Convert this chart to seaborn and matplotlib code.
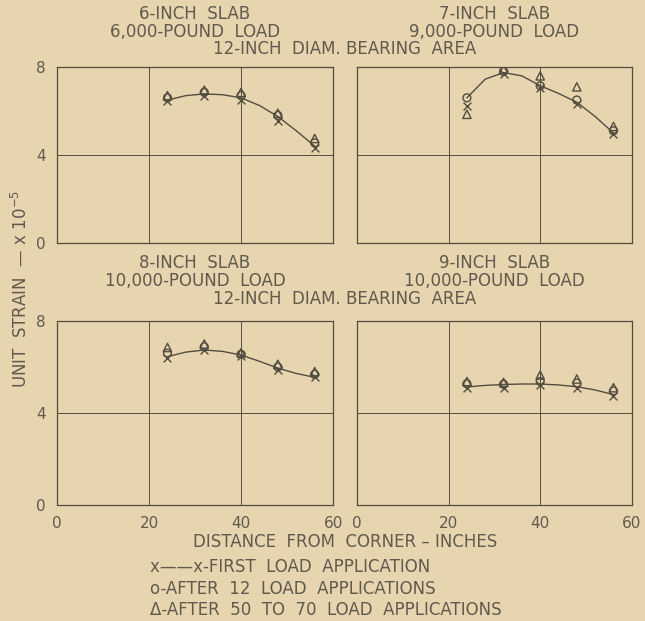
import matplotlib
matplotlib.use("Agg")
import matplotlib.pyplot as plt
import numpy as np
import pandas as pd
import seaborn as sns

# distances from corner (inches) where gages were read
distances = [24, 32, 40, 48, 56]
# points
curve_x = [24, 28, 32, 36, 40, 44, 48, 52, 56]

six_curve = [6.5, 6.7, 6.78, 6.74, 6.6, 6.25, 5.75, 5.1, 4.4]
six_first = [6.45, 6.7, 6.5, 5.55, 4.3]
six_12 = [6.6, 6.85, 6.7, 5.8, 4.55]
six_50 = [6.7, 6.95, 6.85, 5.9, 4.75]

seven_curve = [6.6, 7.45, 7.75, 7.6, 7.15, 6.8, 6.4, 5.75, 5.0]
seven_first = [6.25, 7.7, 7.05, 6.3, 4.95]
seven_12 = [6.6, 7.8, 7.15, 6.5, 5.1]
seven_50 = [5.85, 7.9, 7.6, 7.1, 5.3]

eight_curve = [6.45, 6.65, 6.74, 6.68, 6.52, 6.25, 5.95, 5.72, 5.55]
eight_first = [6.4, 6.75, 6.5, 5.85, 5.55]
eight_12 = [6.6, 6.88, 6.55, 6.0, 5.68]
eight_50 = [6.85, 7.0, 6.62, 6.12, 5.8]

nine_curve = [5.13, 5.2, 5.24, 5.26, 5.26, 5.22, 5.14, 5.0, 4.8]
nine_first = [5.08, 5.1, 5.2, 5.08, 4.72]
nine_12 = [5.27, 5.25, 5.37, 5.3, 4.96]
nine_50 = [5.37, 5.33, 5.65, 5.48, 5.1]

titles = [["6-INCH  SLAB", "6,000-POUND  LOAD"],
          ["7-INCH  SLAB", "9,000-POUND  LOAD"],
          ["8-INCH  SLAB", "10,000-POUND  LOAD"],
          ["9-INCH  SLAB", "10,000-POUND  LOAD"]]

paper = '#e7d5b0'
ink = '#534d40'
txt = '#605a4d'
fs = 12

sns.set_style("white")
plt.rcParams['font.family'] = ['DejaVu Sans']

fig = plt.figure(figsize=(6.45, 6.21), dpi=100, facecolor=paper)

# axes boxes [left, bottom, width, height] in figure fraction
boxes = [[0.0884, 0.609, 0.428, 0.283],
         [0.5535, 0.609, 0.426, 0.283],
         [0.0884, 0.187, 0.428, 0.296],
         [0.5535, 0.187, 0.426, 0.296]]

panels = [(six_curve, six_first, six_12, six_50),
          (seven_curve, seven_first, seven_12, seven_50),
          (eight_curve, eight_first, eight_12, eight_50),
          (nine_curve, nine_first, nine_12, nine_50)]

for i, (box, (curve, first, after12, after50)) in enumerate(zip(boxes, panels)):
    ax = fig.add_axes(box)
    ax.set_facecolor(paper)
    sns.lineplot(x=curve_x, y=curve, ax=ax, color=ink, lw=1.0)
    sns.scatterplot(x=distances, y=after50, ax=ax, marker='^', s=36,
                    facecolor='none', edgecolor=ink, linewidth=1.0, zorder=3)
    sns.scatterplot(x=distances, y=after12, ax=ax, marker='o', s=32,
                    facecolor='none', edgecolor=ink, linewidth=1.0, zorder=3)
    sns.scatterplot(x=distances, y=first, ax=ax, marker='x', s=32,
                    color=ink, linewidth=1.0, zorder=3)
    ax.set_xlim(0, 60)
    ax.set_ylim(0, 8)
    ax.set_xticks([0, 20, 40, 60])
    ax.set_yticks([0, 4, 8])
    for v in [20, 40]:
        ax.axvline(v, color=ink, lw=0.7, zorder=1)
    ax.axhline(4, color=ink, lw=0.7, zorder=1)
    for s in ax.spines.values():
        s.set_color(ink)
        s.set_linewidth(0.9)
    ax.tick_params(length=0, labelsize=11, colors=txt, pad=8)
    if i % 2 == 1:
        ax.set_yticklabels([])
    if i < 2:
        ax.set_xticklabels([])
    ax.set_xlabel('')
    ax.set_ylabel('')

    cx = box[0] + box[2] / 2
    top = 0.977 if i < 2 else 0.576
    fig.text(cx, top, titles[i][0], ha='center', va='center', fontsize=fs, color=txt)
    fig.text(cx, top - 0.029, titles[i][1], ha='center', va='center', fontsize=fs, color=txt)

fig.text(0.535, 0.921, "12-INCH  DIAM. BEARING  AREA", ha='center', va='center', fontsize=fs, color=txt)
fig.text(0.535, 0.518, "12-INCH  DIAM. BEARING  AREA", ha='center', va='center', fontsize=fs, color=txt)

fig.text(0.032, 0.535, "UNIT  STRAIN  \u2014 x 10$^{-5}$", rotation=90, ha='center', va='center',
         fontsize=fs, color=txt)
fig.text(0.535, 0.127, "DISTANCE  FROM  CORNER \u2013 INCHES", ha='center', va='center',
         fontsize=fs, color=txt)

fig.text(0.232, 0.087, "x\u2014\u2014x-FIRST  LOAD  APPLICATION", ha='left', va='center', fontsize=fs, color=txt)
fig.text(0.232, 0.052, "o-AFTER  12  LOAD  APPLICATIONS", ha='left', va='center', fontsize=fs, color=txt)
fig.text(0.232, 0.018, "\u0394-AFTER  50  TO  70  LOAD  APPLICATIONS", ha='left', va='center', fontsize=fs, color=txt)

fig.savefig('out.png', dpi=100, facecolor=paper)
